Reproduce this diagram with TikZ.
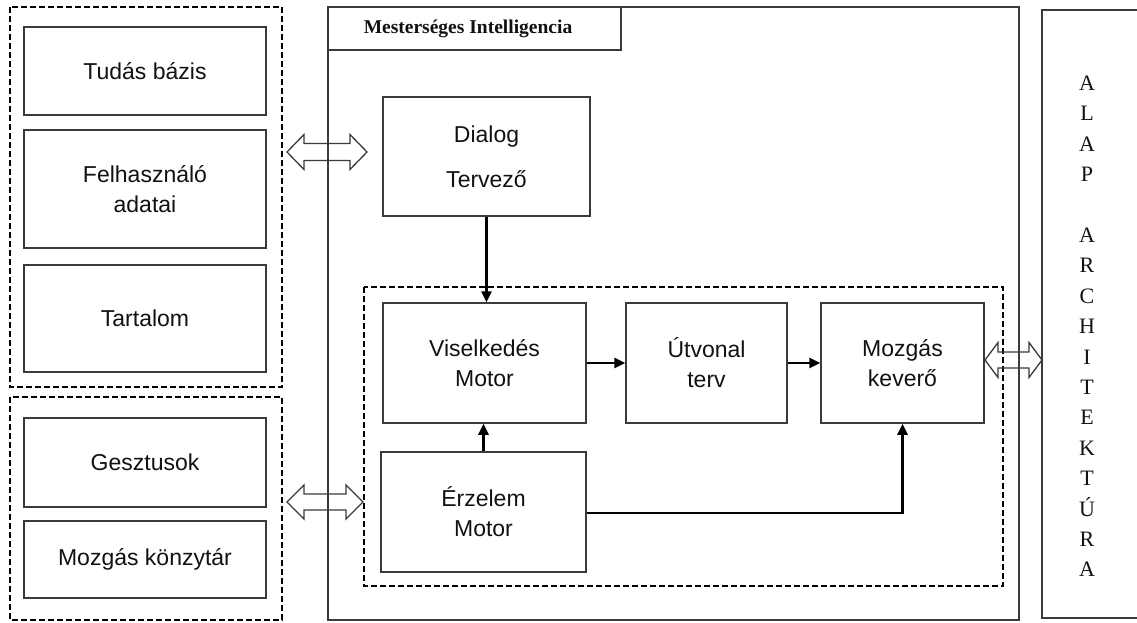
\documentclass[tikz,border=0pt]{standalone}
\usepackage{fontspec}
\setmainfont{Liberation Serif}
\newfontfamily\arialfont{Liberation Sans}
\usetikzlibrary{arrows.meta}

\definecolor{boxgray}{HTML}{3A3A3A}
\definecolor{inkblack}{HTML}{111111}

% hollow two-headed block arrow: x1, x2, y, shaft half-height, head half-height, head length
\newcommand\hollowarrow[6]{%
  \draw[blockarrow] (#1,#3) -- ({#1+#6},{#3-#5}) -- ({#1+#6},{#3-#4})
    -- ({#2-#6},{#3-#4}) -- ({#2-#6},{#3-#5}) -- (#2,#3)
    -- ({#2-#6},{#3+#5}) -- ({#2-#6},{#3+#4}) -- ({#1+#6},{#3+#4})
    -- ({#1+#6},{#3+#5}) -- cycle;}

\begin{document}
\begin{tikzpicture}[x=1pt,y=-1pt,
  box/.style={draw=boxgray, line width=1.5pt, inner sep=0pt, align=center,
    text=inkblack, font=\arialfont\fontsize{23}{30}\selectfont},
  group/.style={draw=black, line width=2pt, dash pattern=on 6pt off 3pt},
  frame/.style={draw=boxgray, line width=1.5pt},
  flow/.style={draw=black, line width=2.5pt, -{Triangle[length=11pt,width=10pt]}},
  blockarrow/.style={draw=boxgray, line width=1.3pt, line join=miter}]

\useasboundingbox (0,0) rectangle (1137,623);

% left-hand data stores
\draw[group] (10,7) rectangle (282,387);
\node[box, minimum width=242pt, minimum height=88pt]  (tb) at (145,71)    {Tudás bázis};
\node[box, minimum width=242pt, minimum height=118pt] (fa) at (145,189)   {Felhasználó\\adatai};
\node[box, minimum width=242pt, minimum height=107pt] (ta) at (145,318.5) {Tartalom};

\draw[group] (10,397) rectangle (282,620);
\node[box, minimum width=242pt, minimum height=89pt] (ge) at (145,462.5) {Gesztusok};
\node[box, minimum width=242pt, minimum height=77pt] (mk) at (145,559.5) {Mozgás könzytár};

% artificial intelligence frame
\draw[frame] (328,7) rectangle (1019,620);
\draw[frame] (328,50) -- (621,50) -- (621,7);
\node[font=\fontsize{19.5}{22}\selectfont\bfseries, text=inkblack, inner sep=0pt]
  (title) at (468,29) {Mesterséges Intelligencia};

\node[box, minimum width=207pt, minimum height=119pt, font=\arialfont\fontsize{23}{45}\selectfont]
  (dt) at (486.5,156.5) {Dialog\\Tervező};

\draw[group] (364,287) rectangle (1003,586);
\node[box, minimum width=203pt, minimum height=120pt] (vm) at (484.5,363) {Viselkedés\\Motor};
\node[box, minimum width=161pt, minimum height=120pt] (ut) at (706.5,363) {Útvonal\\terv};
\node[box, minimum width=163pt, minimum height=120pt] (mo) at (902.5,363) {Mozgás\\keverő};
\node[box, minimum width=205pt, minimum height=120pt] (em) at (483.5,512) {Érzelem\\Motor};

% base architecture column
\draw[frame] (1137,10) -- (1042,10) -- (1042,618) -- (1137,618);
\node[align=center, inner sep=0pt, text=inkblack, font=\fontsize{22}{30.4}\selectfont]
  (alap) at (1087,326.5) {A\\L\\A\\P\\\mbox{}\\A\\R\\C\\H\\I\\T\\E\\K\\T\\Ú\\R\\A};

% control flow
\draw[flow] (dt.south) -- (dt.south |- vm.north);
\draw[flow] (vm.east) -- (ut.west);
\draw[flow] (ut.east) -- (mo.west);
\draw[flow] (em.north) -- (em.north |- vm.south);
\draw[flow] ([yshift=-1pt]em.east) -| (mo.south);

% data exchange
\hollowarrow{287}{367}{152}{8.5}{17.5}{17}
\hollowarrow{287}{363}{502}{8}{17}{17}
\hollowarrow{985}{1042}{360}{8}{17.5}{13}
\end{tikzpicture}
\end{document}
